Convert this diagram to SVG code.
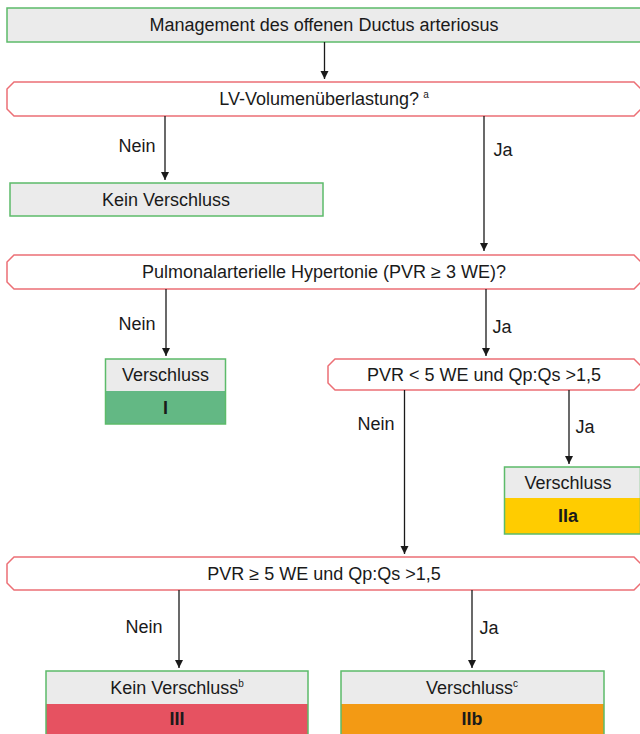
<svg xmlns="http://www.w3.org/2000/svg" width="640" height="734" viewBox="0 0 640 734">
<style>
text{font-family:"Liberation Sans","DejaVu Sans",sans-serif;font-size:18px;fill:#1a1a1a;text-anchor:middle;dominant-baseline:central}
.b{font-weight:bold}
.box{fill:#ebebeb;stroke:#5cbb6a;stroke-width:1.5}
.hex{fill:#fff;stroke:#ec6f75;stroke-width:1.5}
.cn line{stroke:#1a1a1a;stroke-width:1.3}
.sup{font-size:10px}
</style>
<defs>
<marker id="ah" viewBox="0 0 10 10" refX="10" refY="5" markerWidth="8" markerHeight="10" markerUnits="userSpaceOnUse" orient="auto">
<path d="M0,0 L10,5 L0,10 Z" fill="#1a1a1a"/>
</marker>
</defs>
<rect width="640" height="734" fill="#fff"/>
<g id="n-start">
<rect class="box" x="7" y="8" width="640" height="34"/>
<text x="324" y="25">Management des offenen Ductus arteriosus</text>
</g>
<g id="n-lv">
<path class="hex" d="M14,82 H634 L641,89 V109 L634,116 H14 L7,109 V89 Z"/>
<text x="324" y="99">LV-Volumenüberlastung?<tspan class="sup" dx="4" dy="-5">a</tspan></text>
</g>
<g id="n-kein1">
<rect class="box" x="10" y="183" width="313" height="33"/>
<text x="166" y="199.5">Kein Verschluss</text>
</g>
<g id="n-pah">
<path class="hex" d="M14,255 H634 L641,262 V282 L634,289 H14 L7,282 V262 Z"/>
<text x="324" y="272">Pulmonalarterielle Hypertonie (PVR ≥ 3 WE)?</text>
</g>
<g id="n-I">
<rect x="105.5" y="359" width="120" height="32" fill="#ebebeb"/>
<rect x="105.5" y="391" width="120" height="33" fill="#63b884"/>
<rect x="105.5" y="359" width="120" height="65" fill="none" stroke="#5cbb6a" stroke-width="1.5"/>
<text x="165.5" y="375">Verschluss</text>
<text class="b" x="165.5" y="408">I</text>
</g>
<g id="n-pvr5">
<path class="hex" d="M335,359 H634 L641,366 V383 L634,390 H335 L328,383 V366 Z"/>
<text x="484" y="375">PVR &lt; 5 WE und Qp:Qs &gt;1,5</text>
</g>
<g id="n-IIa">
<rect x="504.5" y="467" width="136" height="31" fill="#ebebeb"/>
<rect x="504.5" y="498" width="136" height="36" fill="#ffcc00"/>
<rect x="504.5" y="467" width="136" height="67" fill="none" stroke="#5cbb6a" stroke-width="1.5"/>
<text x="568" y="483">Verschluss</text>
<text class="b" x="568" y="516">IIa</text>
</g>
<g id="n-pvrge5">
<path class="hex" d="M14,557 H634 L641,564 V583 L634,590 H14 L7,583 V564 Z"/>
<text x="324" y="574">PVR ≥ 5 WE und Qp:Qs &gt;1,5</text>
</g>
<g id="n-III">
<rect x="46" y="671" width="262" height="33" fill="#ebebeb"/>
<rect x="46" y="704" width="262" height="32" fill="#e65261"/>
<rect x="46" y="671" width="262" height="66" fill="none" stroke="#5cbb6a" stroke-width="1.5"/>
<text x="177" y="688">Kein Verschluss<tspan class="sup" dy="-5">b</tspan></text>
<text class="b" x="177" y="719">III</text>
</g>
<g id="n-IIb">
<rect x="341" y="671" width="263" height="33" fill="#ebebeb"/>
<rect x="341" y="704" width="263" height="32" fill="#f39a14"/>
<rect x="341" y="671" width="263" height="66" fill="none" stroke="#5cbb6a" stroke-width="1.5"/>
<text x="472" y="688">Verschluss<tspan class="sup" dy="-5">c</tspan></text>
<text class="b" x="472" y="719">IIb</text>
</g>
<g id="connectors" class="cn">
<line x1="324.5" y1="42" x2="324.5" y2="79" marker-end="url(#ah)"/>
<line x1="165" y1="116" x2="165" y2="180" marker-end="url(#ah)"/>
<text x="137" y="146">Nein</text>
<line x1="484" y1="116" x2="484" y2="251" marker-end="url(#ah)"/>
<text x="503" y="150">Ja</text>
<line x1="166" y1="289" x2="166" y2="356" marker-end="url(#ah)"/>
<text x="137" y="324">Nein</text>
<line x1="486" y1="289" x2="486" y2="356" marker-end="url(#ah)"/>
<text x="502" y="327">Ja</text>
<line x1="404.5" y1="390" x2="404.5" y2="554" marker-end="url(#ah)"/>
<text x="376" y="424">Nein</text>
<line x1="569" y1="390" x2="569" y2="464" marker-end="url(#ah)"/>
<text x="585" y="427">Ja</text>
<line x1="179" y1="590" x2="179" y2="668" marker-end="url(#ah)"/>
<text x="144" y="627">Nein</text>
<line x1="472" y1="590" x2="472" y2="668" marker-end="url(#ah)"/>
<text x="489" y="628">Ja</text>
</g>
</svg>
